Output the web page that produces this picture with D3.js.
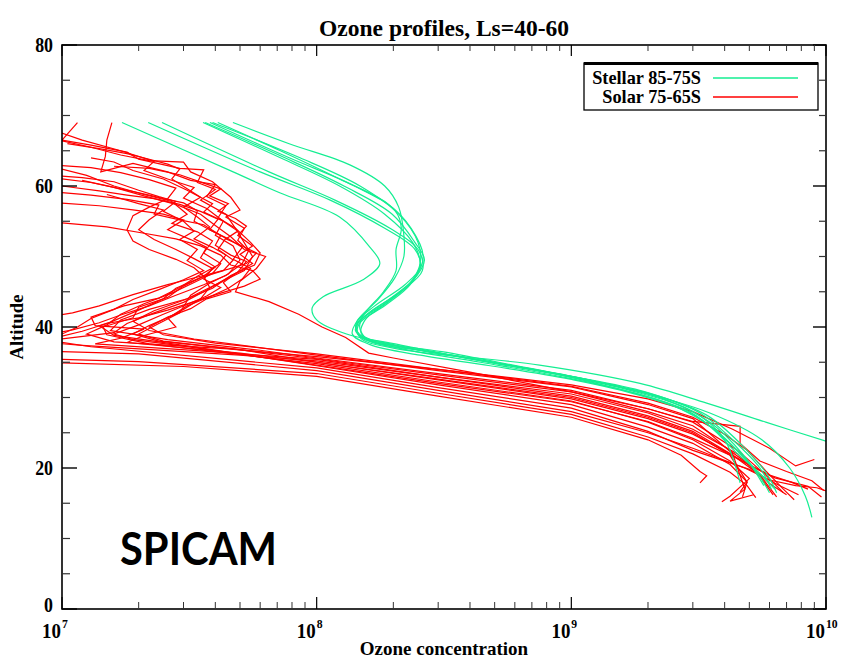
<!DOCTYPE html>
<html>
<head>
<meta charset="utf-8">
<script src="https://cdn.jsdelivr.net/npm/d3@7"></script>
<style>
  html, body { margin: 0; padding: 0; background: #fff; }
  svg { display: block; }
  .serif { font-family: "Liberation Serif", "Times New Roman", serif; font-weight: bold; }
</style>
</head>
<body>
<svg id="chart" width="844" height="662"></svg>
<script>
// ---------------- DATA ----------------
const title = "Ozone profiles, Ls=40-60";
const xTitle = "Ozone concentration";
const yTitle = "Altitude";
const seriesNames = ["Stellar 85-75S", "Solar 75-65S"];
const seriesColors = ["#14ee92", "#ff0000"];
const xDomain = [1e7, 1e10];
const yDomain = [0, 80];
const yMajorTicks = [0, 20, 40, 60, 80];
const yMinorTicks = [5, 10, 15, 25, 30, 35, 45, 50, 55, 65, 70, 75];
const xDecadeTicks = [1e7, 1e8, 1e9, 1e10];
const xDecadeExponents = ["7", "8", "9", "10"];
const xMinorMantissas = [2, 3, 4, 5, 6, 7, 8, 9];
const watermark = "SPICAM";

// Stellar occultation profiles (concentration, altitude km)
const stellar1 = [[1.72e7,69],[4.7e7,62],[7.2e7,59],[1.23e8,55.6],[1.62e8,51.3],[1.77e8,49],[1.52e8,46.7],[1.06e8,44.3],[9.6e7,42.7],[1.0e8,41],[1.31e8,39],[2.1e8,37.5],[4.4e8,35.2],[9e8,33.2],[1.7e9,31],[3.0e9,28],[4.0e9,24],[4.6e9,17.9]];
const stellar2 = [[2.18e7,69],[6.0e7,62],[1.13e8,58],[1.85e8,54],[2.43e8,51],[2.55e8,48.5],[2.22e8,46],[1.69e8,43],[1.43e8,40.5],[1.5e8,38.5],[2.3e8,37],[4.8e8,35],[1e9,33],[1.95e9,30.8],[3.2e9,27.8],[4.3e9,24],[5.5e9,20],[6.1e9,17]];
const stellar3 = [[2.47e7,69],[6.5e7,62],[1.18e8,58],[1.94e8,54],[2.5e8,51],[2.6e8,48],[2.13e8,45],[1.6e8,42],[1.42e8,40],[1.62e8,38],[2.78e8,36.5],[5.7e8,34.6],[1.2e9,32.4],[2.2e9,30.2],[3.4e9,27.5],[4.6e9,23.5],[5.9e9,19],[6.4e9,16.5]];
const stellar4 = [[3.58e7,69],[7.2e7,64],[1.23e8,60],[1.85e8,56],[2.38e8,52],[2.55e8,49],[2.33e8,46],[1.85e8,43],[1.48e8,40.5],[1.55e8,38.5],[2.1e8,37],[4.4e8,35],[9e8,33],[1.7e9,30.8],[2.9e9,28],[3.9e9,24.5],[5.2e9,20],[6.0e9,16.5]];
const stellar5 = [[3.81e7,69],[7.8e7,64],[1.41e8,60],[2.03e8,56.5],[2.15e8,54],[2.05e8,51],[2.05e8,48],[1.83e8,45],[1.55e8,42],[1.42e8,39.5],[1.68e8,38],[3.1e8,36.5],[5.9e8,34.6],[1.24e9,32.3],[2.3e9,29.8],[3.5e9,26.5],[4.7e9,22],[5.7e9,17.5]];
const stellar6 = [[4.09e7,69],[7.2e7,65],[1.23e8,61],[1.9e8,57.5],[2.35e8,54],[2.62e8,50],[2.43e8,47],[1.94e8,44],[1.5e8,41],[1.45e8,39],[1.94e8,37.5],[3.65e8,35.8],[7.5e8,33.8],[1.42e9,31.5],[2.45e9,29],[3.65e9,25.5],[4.9e9,21],[6.3e9,17]];
const stellar7 = [[4.69e7,69],[7.8e7,66],[1.35e8,63],[1.85e8,60],[2.1e8,57],[2.2e8,53],[2.2e8,50],[2.03e8,47],[1.75e8,44],[1.45e8,41],[1.38e8,39],[1.62e8,37.5],[2.55e8,36],[4.8e8,34.5],[9.9e8,32.6],[1.86e9,30.3],[3.2e9,27],[4.5e9,22],[6.0e9,18]];
const stellar8 = [[3.9e7,69],[8.6e7,64],[1.48e8,60],[2.1e8,56],[2.5e8,52],[2.55e8,49],[2.3e8,46],[1.8e8,43],[1.45e8,40.5],[1.48e8,38.5],[2.0e8,37],[7.5e8,34.6],[1.86e9,32],[3.4e9,29.2],[5.8e9,26.5],[1.0e10,23.8]];
const stellar9 = [[3.65e7,69],[7.5e7,64],[1.28e8,60],[1.98e8,56],[2.43e8,52],[2.65e8,49.5],[2.38e8,46.5],[1.9e8,43.5],[1.55e8,41],[1.5e8,39],[2.0e8,37.5],[4.4e8,35.3],[1e9,33],[2e9,30.5],[3.5e9,27.8],[5.6e9,24],[7.2e9,20],[8.3e9,16],[8.8e9,13]];

// Solar occultation profiles (concentration, altitude km)
const solar1 = [[1.15e7,69],[1.0e7,66.5],[1.3e7,65.8],[1.8e7,64.8],[2.0e7,63.8],[2.9e7,62.5],[3.6e7,62.3],[3.4e7,60.5],[4.0e7,59.5],[3.5e7,58],[4.4e7,56],[4.9e7,53.5],[5.6e7,50],[5.2e7,48],[4.0e7,46],[3.1e7,44],[2.2e7,42.5],[1.7e7,41],[1.55e7,39.5],[2.6e7,38.2],[6e7,36.7],[1e8,35.6],[3e8,33.4],[1e9,31.0],[2e9,28.4],[3e9,26.5],[4.5e9,22.5],[5.8e9,19],[6.8e9,16.5]];
const solar2 = [[9.5e6,67.8],[1.2e7,66.5],[1.7e7,65],[2.3e7,63.5],[2.1e7,62.2],[2.6e7,61],[3.3e7,59.8],[3.0e7,58.3],[3.7e7,56.8],[4.3e7,55],[4.0e7,53],[4.7e7,51.5],[5.0e7,49.5],[4.5e7,47.5],[3.8e7,46.2],[3.2e7,44.5],[2.9e7,42],[2.4e7,40.5],[2.0e7,39],[2.5e7,38],[5e7,36.8],[1e8,35.0],[3e8,32.6],[1e9,30.0],[2e9,27.2],[3e9,25.0],[4.2e9,21.8],[4.9e9,18],[4.7e9,15.9]];
const solar3 = [[1.57e7,69],[1.5e7,66.5],[1.48e7,64.2],[1.42e7,62],[1.9e7,63.2],[2.6e7,62],[3.2e7,60.8],[4.0e7,60.2],[3.7e7,58.5],[4.4e7,57.2],[4.1e7,55.5],[4.8e7,54],[5.5e7,52],[6.0e7,50.5],[5.7e7,48.8],[4.6e7,47.3],[3.9e7,45.5],[3.0e7,43.8],[2.3e7,42.3],[1.9e7,40.8],[2.2e7,39.5],[3.3e7,38.3],[1e8,36.0],[3e8,33.8],[1e9,31.5],[2e9,29],[3e9,27],[4.3e9,22],[4.8e9,17],[4.2e9,15.3],[5.2e9,16.2]];
const solar4 = [[9e6,61.2],[1.3e7,60.5],[1.7e7,59.6],[2.2e7,58.7],[2.5e7,58.2],[3.0e7,57.6],[3.4e7,56.5],[3.3e7,55],[3.8e7,53.8],[4.4e7,52.6],[4.1e7,51],[4.7e7,49.5],[4.3e7,48],[3.5e7,47],[2.8e7,45.5],[2.5e7,44],[2.0e7,42.4],[1.55e7,40.7],[1.4e7,40.2],[1.6e7,38.8],[3e7,37.4],[1e8,34.5],[3e8,31.8],[1e9,29.0],[2e9,25.8],[3e9,23.5],[4.2e9,20.5],[4.9e9,18],[4.6e9,16.6]];
const solar5 = [[9.5e6,62.6],[1.25e7,61.5],[1.6e7,60],[2.1e7,58.8],[2.7e7,57.8],[3.1e7,56],[2.7e7,54.7],[3.4e7,53.5],[3.9e7,52.2],[3.6e7,50.5],[4.2e7,49],[3.9e7,47.6],[3.3e7,46.3],[2.7e7,44.8],[2.1e7,43.3],[1.7e7,41.8],[1.5e7,40.3],[1.25e7,39],[1.6e7,37.9],[4.5e7,36.9],[1e8,35.8],[3e8,34],[1e9,31.8],[2e9,29.8],[3e9,28],[4.3e9,25.5],[6e9,22.8],[7.6e9,20.3],[9.0e9,21.2]];
const solar6 = [[9e6,59.2],[1.3e7,58.7],[1.8e7,58.1],[2.4e7,57.3],[2.3e7,56],[2.9e7,55.2],[3.6e7,54.5],[4.2e7,53],[4.0e7,51.6],[4.6e7,50.2],[5.3e7,49.3],[4.9e7,47.8],[4.2e7,46.4],[3.6e7,45],[3.0e7,43.5],[2.3e7,42],[1.8e7,40.5],[1.6e7,39.2],[1.1e7,38.5],[8e6,37.9],[1.2e7,37.4],[5e7,36.0],[1e8,35.2],[3e8,32.9],[1e9,30.5],[2e9,27.8],[3e9,25.5],[4.5e9,22],[5.5e9,18.8],[6.2e9,16.2]];
const solar7 = [[9e6,57.7],[1.4e7,57.2],[1.9e7,56.6],[2.5e7,56],[3.0e7,55.2],[2.6e7,53.8],[3.2e7,52.4],[3.7e7,51.3],[3.5e7,49.8],[4.0e7,48.5],[3.6e7,47.2],[3.0e7,45.8],[2.6e7,44.2],[2.0e7,42.8],[1.9e7,41.3],[1.45e7,40],[1.5e7,38.9],[2.2e7,37.6],[1e8,34.8],[3e8,32.2],[1e9,29.5],[2e9,26.5],[3e9,24],[4.2e9,21],[5.0e9,18.5],[4.2e9,16],[3.9e9,15.2]];
const solar8 = [[9e6,54.9],[1.5e7,54.2],[2.1e7,53.3],[2.8e7,52.5],[3.5e7,51.5],[4.2e7,50.2],[4.6e7,48.8],[5.6e7,48],[6.0e7,46.8],[5.2e7,45.8],[4.2e7,44.8],[3.3e7,43.6],[2.6e7,42.4],[2.0e7,41.3],[1.5e7,40.5],[1.2e7,39.4],[1.0e7,38.7],[8.5e6,38.2],[1.3e7,37.2],[1e8,34.2],[3e8,31.4],[1e9,28.5],[2e9,25.2],[3e9,22.5],[5e9,19.8],[6.5e9,17.6],[7.8e9,16.2]];
const solar9 = [[1.2e7,60.8],[1.6e7,59.8],[2.1e7,58.6],[2.8e7,57.4],[3.5e7,56],[4.0e7,54.4],[4.6e7,52.8],[5.2e7,51],[6.3e7,50],[5.8e7,48.3],[5.0e7,46.5],[4.8e7,45],[6.5e7,43.6],[8.5e7,41.8],[1.05e8,40],[1.3e8,38.5],[1.6e8,36.3],[2e8,35.6],[4e8,33.6],[1e9,30.8],[2e9,28],[3e9,26],[4e9,23],[5.2e9,20],[6e9,17.8],[7e9,16.2]];
const solar10 = [[1.3e7,64],[1.6e7,63.4],[1.9e7,62.2],[2.5e7,61],[3.1e7,59.4],[3.9e7,57.5],[3.6e7,56.3],[4.3e7,55],[4.9e7,53.6],[4.4e7,52.5],[5.1e7,51.5],[5.8e7,50.5],[5.3e7,49],[4.5e7,48.2],[3.5e7,47.2],[2.6e7,46],[1.9e7,44.6],[1.4e7,43],[1.1e7,42],[8e6,41.2],[8e6,35],[3e7,34.4],[1e8,33.0],[3e8,30.2],[1e9,27.2],[2e9,24],[2.7e9,21.8],[3.2e9,19.5],[3.4e9,18.9],[3.2e9,17.9]];
const solar11 = [[1.05e7,66],[1.4e7,65.3],[1.8e7,64.6],[2.2e7,63.8],[2.6e7,63.1],[2.9e7,62.4],[2.7e7,61],[3.1e7,59.6],[3.5e7,58.4],[3.0e7,57],[3.4e7,55.6],[3.8e7,54.2],[3.3e7,52.5],[3.9e7,51.3],[4.4e7,50.2],[4.1e7,48.8],[3.4e7,47.2],[2.9e7,45.6],[2.4e7,44.1],[1.75e7,43],[1.3e7,41.4],[1.35e7,40.2],[2.1e7,39.7],[1.7e7,38.4],[1.35e7,37.6],[3.5e7,36.6],[1e8,35.4],[3e8,32.9],[1e9,30.2],[2e9,27.4],[3e9,25.2],[4e9,22.5],[5e9,20.4],[6.3e9,18.6],[8.5e9,17.4],[9.6e9,15.9]];
const solar12 = [[1.6e7,62.8],[2.2e7,62.5],[2.9e7,61.6],[3.6e7,60.4],[4.2e7,59.6],[3.8e7,58.6],[4.5e7,57.5],[4.1e7,56.4],[4.8e7,55.4],[5.3e7,54.3],[4.9e7,53],[5.6e7,51.5],[5.0e7,50.3],[5.6e7,49],[4.8e7,47.6],[4.3e7,46.3],[4.6e7,45],[3.7e7,44],[3.2e7,42.6],[2.6e7,41.4],[2.2e7,40],[2.5e7,38.9],[4e7,37.7],[1e8,36.2],[3e8,34],[1e9,31.6],[2e9,29.2],[3e9,27.2],[4e9,24.8],[4.9e9,22.5],[5.8e9,19.6],[6.8e9,17],[7.5e9,15.5]];
const solar13 = [[1.0e7,60],[1.4e7,59.3],[1.8e7,58.7],[2.3e7,58.2],[2.9e7,57.4],[3.5e7,56.4],[4.1e7,55.3],[3.8e7,53.8],[4.5e7,52.5],[5.1e7,51.3],[4.7e7,49.6],[5.5e7,48.3],[5.1e7,46.8],[4.5e7,45.5],[3.8e7,44.3],[3.1e7,43],[2.7e7,41.6],[2.2e7,40.2],[1.9e7,39],[2.4e7,38],[5.5e7,36.6],[1e8,35.5],[3e8,33.2],[1e9,30.8],[2e9,28.4],[3e9,26.6],[4.6e9,25.9],[4.6e9,23.5],[5.5e9,21],[7e9,19.5],[8.8e9,18.2],[9.8e9,16.8]];
const solar14 = [[1.5e7,58.8],[2.0e7,57.5],[2.5e7,56.6],[2.2e7,55.2],[2.0e7,53.8],[2.3e7,52.4],[2.8e7,51],[3.3e7,49.7],[3.9e7,48.3],[3.6e7,46.8],[4.2e7,45.6],[3.7e7,44.4],[3.1e7,43.2],[2.5e7,41.8],[2.0e7,40.3],[1.6e7,39],[1.9e7,38.2],[3e7,37.3],[1e8,34.6],[3e8,32],[1e9,29.4],[2e9,26.6],[3e9,24.2],[4.4e9,21.5],[6e9,19],[7.3e9,18],[8.5e9,17]];
const solar15 = [[9e6,63],[1.3e7,62.6],[1.7e7,61.9],[2.2e7,60.9],[2.8e7,59.7],[2.6e7,58.2],[2.2e7,57],[1.9e7,55.8],[1.8e7,53.8],[1.9e7,52.2],[2.2e7,51],[2.8e7,49.6],[3.3e7,48.4],[3.6e7,47.2],[3.8e7,45.6],[3.5e7,44],[3.0e7,42.5],[2.6e7,41.3],[2.8e7,40],[2.1e7,38.8],[1.8e7,37.8],[5e7,36.3],[1e8,35.0],[3e8,32.5],[1e9,29.8],[2e9,27],[3e9,24.8],[4.3e9,21.8],[5.5e9,19],[6.4e9,15.9]];
const solar16 = [[9e6,61.5],[1.2e7,61.2],[1.6e7,60.6],[2.0e7,59.4],[2.4e7,58.5],[2.8e7,57.8],[2.5e7,56.4],[3.0e7,55],[3.3e7,53.6],[2.9e7,52.4],[3.4e7,51],[3.1e7,49.4],[3.6e7,48],[3.0e7,46.7],[2.4e7,45.3],[1.9e7,43.9],[1.6e7,42.5],[1.3e7,41.2],[1.15e7,40],[1.0e7,39],[8e6,38.2],[8e6,36.6],[2e7,36.2],[1e8,33.8],[3e8,31],[1e9,28],[2e9,25],[3e9,22.8],[4.8e9,20],[6.0e9,18.3],[7.6e9,17.5],[9.2e9,17.2],[1.05e10,16.5]];
const solar17 = [[1.0e7,66.4],[1.3e7,65.5],[1.7e7,64.4],[2.2e7,63.6],[3.0e7,63.4],[3.2e7,62],[3.9e7,60.6],[4.6e7,58.4],[5.0e7,56.6],[4.4e7,55.6],[5.2e7,54],[4.9e7,52.3],[5.4e7,50.8],[5.1e7,49],[4.4e7,47.3],[3.6e7,46],[2.8e7,44.5],[2.2e7,43],[1.7e7,41.7],[1.4e7,40.6],[1.1e7,39.6],[8e6,38.6],[8e6,35.5],[2e7,35.1],[1e8,33.4],[3e8,30.6],[1e9,27.6],[2e9,24.4],[3e9,22],[4.2e9,19.4],[4.9e9,17.5],[5.3e9,15.8]];

const stellarProfiles = [stellar1, stellar2, stellar3, stellar4, stellar5, stellar6, stellar7, stellar8, stellar9];
const solarProfiles = [solar1, solar2, solar3, solar4, solar5, solar6, solar7, solar8, solar9, solar10, solar11, solar12, solar13, solar14, solar15, solar16, solar17];

// ---------------- CHART ----------------
const W = 844, H = 662;
const margin = {left: 62, right: 18, top: 45, bottom: 53};
const svg = d3.select("#chart");

const x = d3.scaleLog().domain(xDomain).range([margin.left, W - margin.right]);
const y = d3.scaleLinear().domain(yDomain).range([H - margin.bottom, margin.top]);
const x0 = x.range()[0], x1 = x.range()[1], y0 = y.range()[0], y1 = y.range()[1];

svg.append("defs").append("clipPath").attr("id", "plotclip")
  .append("rect").attr("x", x0).attr("y", y1).attr("width", x1 - x0).attr("height", y0 - y1);

const plot = svg.append("g").attr("clip-path", "url(#plotclip)");

const lineLinear = d3.line().x(d => x(d[0])).y(d => y(d[1]));
const lineSmooth = d3.line().x(d => x(d[0])).y(d => y(d[1])).curve(d3.curveCatmullRom.alpha(0.5));

plot.selectAll("path.solar").data(solarProfiles).join("path")
  .attr("class", "solar").attr("d", lineLinear)
  .attr("fill", "none").attr("stroke", seriesColors[1]).attr("stroke-width", 1.2);

plot.selectAll("path.stellar").data(stellarProfiles).join("path")
  .attr("class", "stellar").attr("d", lineSmooth)
  .attr("fill", "none").attr("stroke", seriesColors[0]).attr("stroke-width", 1.2);

// Axes frame and ticks
const axes = svg.append("g").attr("stroke", "#000");
axes.append("rect").attr("x", x0).attr("y", y1).attr("width", x1 - x0).attr("height", y0 - y1)
  .attr("fill", "none").attr("stroke-width", 1.6);

yMajorTicks.forEach(v => {
  axes.append("line").attr("x1", x0).attr("x2", x0 + 15).attr("y1", y(v)).attr("y2", y(v)).attr("stroke-width", 1.4);
  axes.append("line").attr("x1", x1).attr("x2", x1 - 13).attr("y1", y(v)).attr("y2", y(v)).attr("stroke-width", 1.4);
});
yMinorTicks.forEach(v => {
  axes.append("line").attr("x1", x0).attr("x2", x0 + 8).attr("y1", y(v)).attr("y2", y(v)).attr("stroke-width", 1.2).attr("stroke", "#333");
  axes.append("line").attr("x1", x1).attr("x2", x1 - 7).attr("y1", y(v)).attr("y2", y(v)).attr("stroke-width", 1.2).attr("stroke", "#333");
});
xDecadeTicks.forEach(v => {
  axes.append("line").attr("x1", x(v)).attr("x2", x(v)).attr("y1", y0).attr("y2", y0 - 12).attr("stroke-width", 1.2);
  axes.append("line").attr("x1", x(v)).attr("x2", x(v)).attr("y1", y1).attr("y2", y1 + 11).attr("stroke-width", 1.2);
});
xDecadeTicks.slice(0, -1).forEach(d => {
  xMinorMantissas.forEach(m => {
    const v = d * m;
    axes.append("line").attr("x1", x(v)).attr("x2", x(v)).attr("y1", y0).attr("y2", y0 - 7).attr("stroke-width", 1).attr("stroke", "#333");
    axes.append("line").attr("x1", x(v)).attr("x2", x(v)).attr("y1", y1).attr("y2", y1 + 6).attr("stroke-width", 1).attr("stroke", "#333");
  });
});

// Tick labels
const labels = svg.append("g").attr("class", "serif").attr("fill", "#000");
yMajorTicks.forEach(v => {
  labels.append("text").attr("transform", `translate(${x0 - 9}, ${y(v) + (v === 0 ? 3 : 7)}) scale(0.85, 1)`)
    .attr("text-anchor", "end").attr("font-size", 21).text(v);
});
xDecadeTicks.forEach((v, i) => {
  labels.append("text").attr("transform", `translate(${x(v) - 1}, ${y0 + 29}) scale(0.9, 1)`)
    .attr("text-anchor", "end").attr("font-size", 21).text("10");
  labels.append("text").attr("transform", `translate(${x(v)}, ${y0 + 19}) scale(0.9, 1)`)
    .attr("text-anchor", "start").attr("font-size", 13).text(xDecadeExponents[i]);
});

// Titles
labels.append("text").attr("x", (x0 + x1) / 2).attr("y", 36).attr("text-anchor", "middle").attr("font-size", 23.5).text(title);
labels.append("text").attr("x", (x0 + x1) / 2).attr("y", 655).attr("text-anchor", "middle").attr("font-size", 19).text(xTitle);
labels.append("text").attr("transform", `translate(23, ${(y0 + y1) / 2}) rotate(-90)`).attr("text-anchor", "middle").attr("font-size", 18.5).text(yTitle);

// Watermark
svg.append("text").attr("x", 120).attr("y", 565)
  .attr("font-family", "Lato, 'Open Sans', sans-serif").attr("font-weight", "bold")
  .attr("font-size", 46).attr("fill", "#000")
  .attr("textLength", 157).attr("lengthAdjust", "spacingAndGlyphs").text(watermark);

// Legend
const lg = svg.append("g");
lg.append("rect").attr("x", 584).attr("y", 63).attr("width", 234).attr("height", 47)
  .attr("fill", "#fff").attr("stroke", "#000").attr("stroke-width", 1.3);
lg.append("line").attr("x1", 584).attr("x2", 818).attr("y1", 63.5).attr("y2", 63.5).attr("stroke", "#000").attr("stroke-width", 3);
seriesNames.forEach((name, i) => {
  const yy = 78 + i * 19;
  lg.append("text").attr("class", "serif").attr("x", 701).attr("y", yy + 6).attr("text-anchor", "end")
    .attr("font-size", 18.3).text(name);
  lg.append("line").attr("x1", 713).attr("x2", 798).attr("y1", yy).attr("y2", yy)
    .attr("stroke", seriesColors[i]).attr("stroke-width", 1.3);
});
</script>
</body>
</html>
